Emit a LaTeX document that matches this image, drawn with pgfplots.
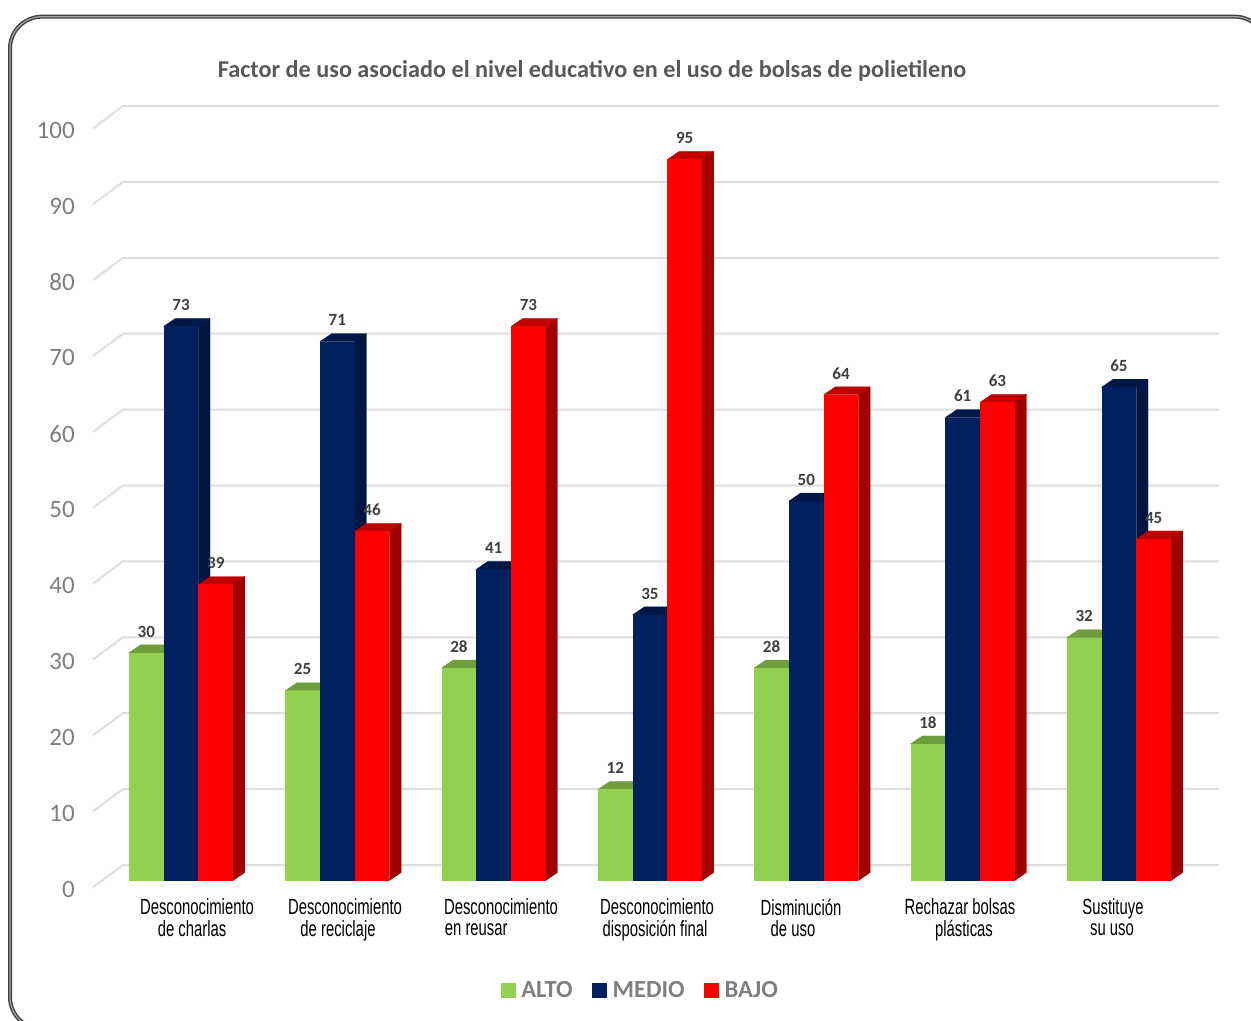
\documentclass[border=0pt]{standalone}
\usepackage{pgfplots}
\pgfplotsset{compat=1.18}
\usepackage{fontspec}
\setmainfont{Carlito}
\newfontfamily\narrowf{Liberation Sans}
\definecolor{altoF}{HTML}{92D050}
\definecolor{altoS}{HTML}{6B9A3A}
\definecolor{altoT}{HTML}{6F9E3C}
\definecolor{medioF}{HTML}{002060}
\definecolor{medioS}{HTML}{001540}
\definecolor{medioT}{HTML}{001848}
\definecolor{bajoF}{HTML}{FF0000}
\definecolor{bajoS}{HTML}{A00000}
\definecolor{bajoT}{HTML}{C00000}
\definecolor{gridc}{HTML}{DDDDDD}
\definecolor{txtg}{HTML}{7F7F7F}
\definecolor{titg}{HTML}{595959}
\definecolor{labg}{HTML}{404040}
% one bar: category, position in group, value, colour stem
\newcommand\threebar[4]{%
  \pgfmathsetmacro\xl{#1+(#2)*0.2222-0.1111}%
  \pgfmathsetmacro\xr{\xl+0.2222}%
  \pgfmathsetmacro\xlb{\xl+0.0748}%
  \pgfmathsetmacro\xrb{\xr+0.0748}%
  \pgfmathsetmacro\vb{#3+1.05}%
  \edef\doit{%
    \noexpand\addplot[forget plot,fill=#4T,draw=#4T,line width=0.2pt] coordinates {(\xl,#3) (\xlb,\vb) (\xrb,\vb) (\xr,#3)} -- cycle;
    \noexpand\addplot[forget plot,fill=#4S,draw=#4S,line width=0.2pt] coordinates {(\xr,0) (\xrb,1.05) (\xrb,\vb) (\xr,#3)} -- cycle;
  }\doit
  \addplot[forget plot,ybar,bar width=26.06pt,bar shift={(#2)*26.06pt},fill=#4F,draw=none,
    nodes near coords,
    every node near coord/.append style={font=\bfseries\fontsize{12.8}{13}\selectfont,text=labg,anchor=center,yshift=16pt,xshift={(#2)*26.06pt},inner sep=0pt,/pgf/number format/assume math mode=true}]
    coordinates {(#1,#3)};
}
\newcommand\grl[3]{\addplot[forget plot,gridc,line width=1.5pt] coordinates {(-0.563,#1) (-0.371,#2) (6.6398,#2)};}
\newcommand\lab[3]{\scalebox{0.675}[1]{\narrowf\fontsize{16.5}{15}\selectfont\begin{tabular}{@{}c@{}}\vphantom{Dp}#1\\[-0.5pt]\vphantom{Dp}\hspace*{#3}#2\end{tabular}}}
\begin{document}
\begin{tikzpicture}[x=1pt,y=1pt]
\useasboundingbox (0,0) rectangle (938.25,765);
\begin{scope}
\clip (0,0) rectangle (938.25,765);
\draw[color=labg,line width=3pt,rounded corners=24pt] (7.5,-6.75) rectangle (950,752.5);
\draw[color=gray!70,line width=0.9pt,rounded corners=24pt] (7.5,-6.75) rectangle (950,752.5);
\end{scope}
\begin{axis}[
  at={(69.75pt,104.625pt)},anchor=south west,
  scale only axis,width=844.5pt,height=569.25pt,
  xmin=-0.5629,xmax=6.6398,ymin=0,ymax=100,clip=false,
  axis line style={draw=none},tick style={draw=none},
  major tick length=0pt,
  ytick={0,10,...,100},
  xtick={0.1023,1.0491,2.0470,3.0449,3.9660,4.9830,5.9618},
  xticklabels={
    \lab{Desconocimiento}{de charlas}{-11pt},
    \lab{Desconocimiento}{de reciclaje}{-15.5pt},
    \lab{Desconocimiento}{en reusar}{-55pt},
    \lab{Desconocimiento}{disposición final}{-4.4pt},
    \lab{Disminución}{de uso}{-17.8pt},
    \lab{Rechazar bolsas}{plásticas}{8.9pt},
    \lab{Sustituye}{su uso}{-2.2pt}},
  xticklabel style={anchor=north,inner sep=0pt,yshift=-13.7pt},
  yticklabel style={anchor=east,inner sep=0pt,xshift=-13.5pt,yshift=-6.5pt,text=txtg,
    font=\fontsize{18.75}{20}\selectfont,/pgf/number format/assume math mode=true},
  title={\bfseries Factor de uso asociado el nivel educativo en el uso de bolsas de polietileno},
  title style={at={(0.4432,1.0692)},anchor=center,text=titg,inner sep=0pt,yshift=-7.5pt,font=\bfseries\fontsize{18.15}{20}\selectfont},
  legend columns=3,
  legend style={at={(0.4858,-0.1447)},anchor=center,draw=none,fill=none,inner sep=0pt,
    font=\bfseries\fontsize{18.4}{18}\selectfont,text=txtg,
    /tikz/every odd column/.style={column sep=3.5pt},
    /tikz/every even column/.style={column sep=13.5pt},
    nodes={inner sep=1pt}},
  legend cell align=left,
]
\grl{-0.9}{2.04}{}
\grl{9.1}{12.04}{}
\grl{19.1}{22.04}{}
\grl{29.1}{32.04}{}
\grl{39.1}{42.04}{}
\grl{49.1}{52.04}{}
\grl{59.1}{62.04}{}
\grl{69.1}{72.04}{}
\grl{79.1}{82.04}{}
\grl{89.1}{92.04}{}
\grl{99.1}{102.04}{}
% ALTO
\threebar{0}{-1}{30}{alto}
\threebar{1}{-1}{25}{alto}
\threebar{2}{-1}{28}{alto}
\threebar{3}{-1}{12}{alto}
\threebar{4}{-1}{28}{alto}
\threebar{5}{-1}{18}{alto}
\threebar{6}{-1}{32}{alto}
% MEDIO
\threebar{0}{0}{73}{medio}
\threebar{1}{0}{71}{medio}
\threebar{2}{0}{41}{medio}
\threebar{3}{0}{35}{medio}
\threebar{4}{0}{50}{medio}
\threebar{5}{0}{61}{medio}
\threebar{6}{0}{65}{medio}
% BAJO
\threebar{0}{1}{39}{bajo}
\threebar{1}{1}{46}{bajo}
\threebar{2}{1}{73}{bajo}
\threebar{3}{1}{95}{bajo}
\threebar{4}{1}{64}{bajo}
\threebar{5}{1}{63}{bajo}
\threebar{6}{1}{45}{bajo}
\addlegendimage{legend image code/.code={\fill[altoF] (0pt,-5.5pt) rectangle (10.5pt,5.5pt);}}
\addlegendentry{ALTO}
\addlegendimage{legend image code/.code={\fill[medioF] (0pt,-5.5pt) rectangle (10.5pt,5.5pt);}}
\addlegendentry{MEDIO}
\addlegendimage{legend image code/.code={\fill[bajoF] (0pt,-5.5pt) rectangle (10.5pt,5.5pt);}}
\addlegendentry{BAJO}
\end{axis}
\end{tikzpicture}
\end{document}
